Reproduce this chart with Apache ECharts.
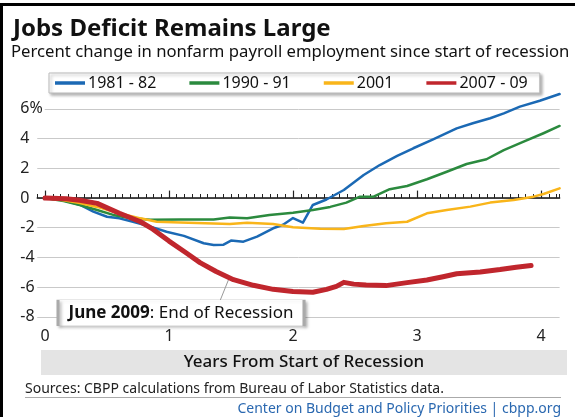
<!DOCTYPE html>
<html><head><meta charset="utf-8">
<script src="https://cdn.jsdelivr.net/npm/echarts@6/dist/echarts.min.js"></script>
<style>html,body{margin:0;padding:0;background:#fff}#c{width:575px;height:417px}</style>
</head><body><div id="c"></div>
<script>
// ---- data (years from start of recession, percent change) ----
const seriesNames = ['1981 - 82', '1990 - 91', '2001', '2007 - 09'];

const years8182 = [0, 0.15, 0.28, 0.39, 0.5, 0.6, 0.71, 0.85, 0.98, 1.12, 1.28, 1.36, 1.44, 1.5, 1.6, 1.71, 1.84, 1.92, 2.0, 2.08, 2.16, 2.27, 2.41, 2.57, 2.7, 2.84, 2.97, 3.13, 3.32, 3.45, 3.59, 3.7, 3.83, 3.99, 4.15];
const values8182 = [0, -0.15, -0.45, -0.92, -1.26, -1.37, -1.6, -1.93, -2.27, -2.55, -3.05, -3.16, -3.14, -2.87, -2.94, -2.6, -2.04, -1.8, -1.35, -1.66, -0.47, -0.1, 0.54, 1.55, 2.22, 2.83, 3.35, 3.95, 4.69, 5.03, 5.37, 5.7, 6.15, 6.55, 7.0];

const years9091 = [0, 0.15, 0.28, 0.42, 0.55, 0.69, 0.85, 1.09, 1.36, 1.49, 1.63, 1.81, 2.0, 2.16, 2.3, 2.43, 2.54, 2.65, 2.78, 2.92, 3.08, 3.24, 3.4, 3.56, 3.7, 3.86, 4.02, 4.15];
const values9091 = [0, -0.2, -0.47, -0.81, -1.14, -1.37, -1.46, -1.44, -1.44, -1.32, -1.37, -1.14, -1.0, -0.81, -0.6, -0.31, 0.09, 0.09, 0.59, 0.81, 1.26, 1.77, 2.29, 2.61, 3.23, 3.79, 4.36, 4.85];

const years2001 = [0, 0.15, 0.28, 0.42, 0.55, 0.77, 0.9, 1.09, 1.36, 1.49, 1.63, 1.84, 2.0, 2.22, 2.41, 2.57, 2.75, 2.92, 3.08, 3.24, 3.43, 3.59, 3.78, 3.94, 4.02, 4.15];
const values2001 = [0, -0.15, -0.34, -0.6, -0.92, -1.37, -1.6, -1.65, -1.71, -1.75, -1.66, -1.75, -1.97, -2.07, -2.09, -1.89, -1.7, -1.6, -1.03, -0.81, -0.58, -0.31, -0.13, 0.09, 0.27, 0.65];

const years0709 = [0, 0.17, 0.28, 0.42, 0.6, 0.77, 0.87, 1.0, 1.14, 1.25, 1.38, 1.52, 1.68, 1.84, 2.0, 2.16, 2.27, 2.35, 2.41, 2.49, 2.59, 2.75, 2.92, 3.08, 3.21, 3.32, 3.51, 3.67, 3.8, 3.92];
const values0709 = [0, -0.05, -0.15, -0.36, -1.03, -1.6, -2.1, -2.9, -3.7, -4.35, -4.95, -5.5, -5.88, -6.15, -6.3, -6.35, -6.15, -5.95, -5.68, -5.8, -5.86, -5.9, -5.7, -5.52, -5.3, -5.1, -4.98, -4.82, -4.66, -4.55];

const xTickLabels = [0, 1, 2, 3, 4];
const yTickValues = [-8, -6, -4, -2, 0, 2, 4, 6];

const calloutBold = 'June 2009';
const calloutRest = ': End of Recession';
const calloutAnchor = [1.48, -5.5];   // point on the 2007-09 line (June 2009)
const calloutLeaderEnd = [1.41, -6.95];
const calloutBox = [1.097, -7.74];
const majorTickHeight = 0.5;          // year tick marks on the zero line, in % units

// ---- styles ----
const FF = '"Noto Sans", "Open Sans", sans-serif';
const colors = ['#1b69b4', '#2b8a3e', '#f9b51a', '#c0262d'];
const widths = [2.5, 2.5, 2.5, 5];

const pairs = (xs, ys) => xs.map((x, i) => [x, ys[i]]);
const allData = [pairs(years8182, values8182), pairs(years9091, values9091), pairs(years2001, values2001), pairs(years0709, values0709)];

const series = seriesNames.map((name, i) => ({
  name, type: 'line', data: allData[i], symbol: 'none', smooth: false,
  lineStyle: { color: colors[i], width: widths[i], join: 'round', cap: 'round' },
  itemStyle: { color: colors[i] },
  z: 3 + i
}));

// year tick marks on the zero line
series[0].markLine = {
  silent: true, symbol: ['none', 'none'], animation: false,
  label: { show: false },
  lineStyle: { color: '#222', width: 1.2, type: 'solid' },
  data: xTickLabels.map(t => [{ coord: [t, 0] }, { coord: [t, majorTickHeight] }])
};

series[3].markLine = {
  silent: true, symbol: ['none', 'none'], animation: false,
  label: { show: false },
  lineStyle: { color: '#999', width: 1, type: 'solid' },
  data: [[{ coord: calloutAnchor }, { coord: calloutLeaderEnd }]]
};
series[3].markPoint = {
  silent: true, animation: false,
  symbol: 'rect', symbolSize: [246, 26],
  itemStyle: { color: '#fff', borderColor: '#aaa', borderWidth: 1, shadowColor: 'rgba(0,0,0,0.25)', shadowBlur: 3, shadowOffsetX: 2, shadowOffsetY: 2 },
  label: {
    show: true, position: 'inside',
    formatter: '{b|' + calloutBold + '}{n|' + calloutRest + '}',
    rich: {
      b: { fontFamily: FF, fontSize: 17, fontWeight: 'bold', color: '#111' },
      n: { fontFamily: FF, fontSize: 17, color: '#111' }
    }
  },
  data: [{ coord: calloutBox }]
};

const gridColors = yTickValues.map(() => '#c9c9c9').concat(['rgba(0,0,0,0)']);

const option = {
  animation: false,
  backgroundColor: '#fff',
  grid: { left: 37.25, right: 15.4, top: 79.2, bottom: 100.2, containLabel: false, outerBoundsMode: 'none' },
  legend: {
    data: seriesNames, left: 49, top: 73, icon: 'rect', itemWidth: 30, itemHeight: 3.5,
    itemGap: 33, padding: [2, 12, 2, 6],
    backgroundColor: '#fff', borderColor: '#bbb', borderWidth: 1,
    shadowColor: 'rgba(0,0,0,0.3)', shadowBlur: 3, shadowOffsetX: 2, shadowOffsetY: 2,
    textStyle: { fontFamily: FF, fontSize: 16, color: '#111', padding: [0, 0, 0, -2] }
  },
  xAxis: [
    {
      type: 'value', min: -0.0625, max: 4.15, interval: 0.0625,
      axisLine: { show: true, onZero: true, lineStyle: { color: '#111', width: 1.5 } },
      axisTick: { show: true, inside: true, length: 4, lineStyle: { color: '#222', width: 1 } },
      axisLabel: { show: false }, splitLine: { show: false }
    },
    {
      type: 'value', min: -0.0625, max: 4.15, position: 'bottom',
      axisLine: { show: false, onZero: false },
      axisTick: { show: false },
      axisLabel: { show: true, customValues: xTickLabels, margin: 12, fontFamily: FF, fontSize: 16, color: '#222' },
      splitLine: { show: false }
    }
  ],
  yAxis: {
    type: 'value', min: -8, max: 8, interval: 2,
    axisLine: { show: false }, axisTick: { show: false },
    splitLine: { show: true, lineStyle: { color: gridColors, width: 1 } },
    axisLabel: {
      align: 'left', margin: 17, fontFamily: FF, fontSize: 16, color: '#222',
      backgroundColor: '#fff', padding: [0, 2, 0, 0],
      formatter: v => (yTickValues.indexOf(v) < 0 ? '' : (v === 6 ? '6%' : String(v)))
    }
  },
  graphic: [
    { type: 'rect', shape: { x: 0, y: 3, width: 575, height: 3 }, style: { fill: '#000' }, silent: true },
    { type: 'rect', shape: { x: 0, y: 3, width: 3, height: 414 }, style: { fill: '#000' }, silent: true },
    { type: 'text', style: { text: 'Jobs Deficit Remains Large', x: 13, y: 29, textVerticalAlign: 'middle', font: 'bold 24px ' + FF, fill: '#111' } },
    { type: 'text', style: { text: 'Percent change in nonfarm payroll employment since start of recession', x: 11, y: 52, textVerticalAlign: 'middle', font: '16.7px ' + FF, fill: '#111' } },
    { type: 'rect', shape: { x: 41, y: 350, width: 526, height: 25 }, style: { fill: '#e4e4e4' }, silent: true },
    { type: 'text', style: { text: 'Years From Start of Recession', x: 304, y: 362.5, textAlign: 'center', textVerticalAlign: 'middle', font: '500 17px ' + FF, fill: '#111' } },
    { type: 'text', style: { text: 'Sources: CBPP calculations from Bureau of Labor Statistics data.', x: 25, y: 389, textVerticalAlign: 'middle', font: '14px ' + FF, fill: '#222' } },
    { type: 'line', shape: { x1: 25, y1: 397.5, x2: 561, y2: 397.5 }, style: { stroke: '#aaa', lineWidth: 1 } },
    { type: 'text', style: { text: 'Center on Budget and Policy Priorities | cbpp.org', x: 561, y: 409, textAlign: 'right', textVerticalAlign: 'middle', font: '14px ' + FF, fill: '#2a68b0' } }
  ],
  series
};

const chart = echarts.init(document.getElementById('c'), null, { renderer: 'canvas' });
chart.setOption(option);
</script>
</body></html>
